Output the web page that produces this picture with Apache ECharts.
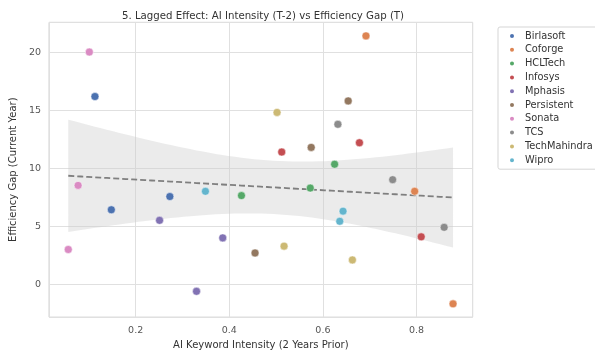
<!DOCTYPE html>
<html><head><meta charset="utf-8">
<script src="https://cdn.jsdelivr.net/npm/echarts@6/dist/echarts.min.js"></script>
<style>html,body{margin:0;padding:0;background:#fff}#c{width:595px;height:355px}</style>
</head><body><div id="c"></div>
<script>
const companies = ["Birlasoft","Coforge","HCLTech","Infosys","Mphasis","Persistent","Sonata","TCS","TechMahindra","Wipro"];
const colors = ["#4C72B0","#DD8452","#55A868","#C44E52","#8172B3","#937860","#DA8BC3","#8C8C8C","#CCB974","#64B5CD"];
const aiIntensity = {
  Birlasoft:[0.113,0.148,0.273],
  Coforge:[0.692,0.796,0.878],
  HCLTech:[0.625,0.573,0.426],
  Infosys:[0.512,0.678,0.810],
  Mphasis:[0.251,0.386,0.330],
  Persistent:[0.654,0.575,0.455],
  Sonata:[0.101,0.077,0.056],
  TCS:[0.632,0.749,0.859],
  TechMahindra:[0.502,0.517,0.663],
  Wipro:[0.349,0.643,0.636]
};
const efficiencyGap = {
  Birlasoft:[16.2,6.45,7.59],
  Coforge:[21.42,8.04,-1.65],
  HCLTech:[10.37,8.32,7.67],
  Infosys:[11.42,12.22,4.12],
  Mphasis:[5.54,4.03,-0.57],
  Persistent:[15.82,11.82,2.73],
  Sonata:[20.03,8.55,3.03],
  TCS:[13.81,9.04,4.94],
  TechMahindra:[14.83,3.32,2.13],
  Wipro:[8.04,6.33,5.46]
};
const xTicks = [0.2,0.4,0.6,0.8];
const yTicks = [0,5,10,15,20];

// regression with 95% CI (derived from the data; seaborn bootstraps, slightly wider)
const xs=[], ys=[];
companies.forEach(c=>{aiIntensity[c].forEach((x,i)=>{xs.push(x);ys.push(efficiencyGap[c][i]);});});
const n=xs.length, xbar=xs.reduce((a,b)=>a+b)/n, ybar=ys.reduce((a,b)=>a+b)/n;
let sxx=0,sxy=0; for(let i=0;i<n;i++){sxx+=(xs[i]-xbar)**2;sxy+=(xs[i]-xbar)*(ys[i]-ybar);}
const b1=sxy/sxx, b0=ybar-b1*xbar;
let sse=0; for(let i=0;i<n;i++){sse+=(ys[i]-b0-b1*xs[i])**2;}
const s=Math.sqrt(sse/(n-2)), tcrit=2.048*1.08;
const xmin=Math.min(...xs), xmax=Math.max(...xs);
const fitLine=[], upper=[], lower=[];
for(let k=0;k<=60;k++){
  const x=xmin+(xmax-xmin)*k/60, yh=b0+b1*x;
  const se=s*Math.sqrt(1/n+(x-xbar)**2/sxx);
  fitLine.push([x,yh]); upper.push([x,yh+tcrit*se]); lower.push([x,yh-tcrit*se]);
}
const bandPoly = upper.concat(lower.slice().reverse());

const isTick=(v,arr)=>arr.some(t=>Math.abs(t-v)<1e-6);
const font='DejaVu Sans';
const series=[{
  type:'custom', silent:true, z:1,
  renderItem:(params,api)=>{
    if(params.dataIndex!==0) return null;
    const pts=bandPoly.map(p=>api.coord(p));
    return {type:'polygon',shape:{points:pts},style:{fill:'rgba(205,205,205,0.4)'}};
  },
  data:[[0,0]], encode:{x:0,y:1}
},{
  type:'line', data:fitLine, showSymbol:false, silent:true, z:2,
  lineStyle:{color:'#7f7f7f',width:1.8,type:[6,3]}
}];
companies.forEach((c,ci)=>{
  series.push({
    name:c, type:'scatter', z:3, symbolSize:8,
    itemStyle:{color:colors[ci],borderColor:'#fff',borderWidth:0.5,opacity:1},
    data:aiIntensity[c].map((x,i)=>[x,efficiencyGap[c][i]])
  });
});

const chart=echarts.init(document.getElementById('c'),null,{renderer:'canvas'});
chart.setOption({
  animation:false,
  textStyle:{fontFamily:font},
  title:{text:'5. Lagged Effect: AI Intensity (T-2) vs Efficiency Gap (T)',left:258,textAlign:'center',top:6,
    textStyle:{fontFamily:font,fontSize:10.2,fontWeight:'normal',color:'#333'}},
  grid:{left:44.3,right:122.3,top:22.3,bottom:35,show:true,borderColor:'#d5d5d5',borderWidth:1,containLabel:false},
  xAxis:{type:'value',min:0.0148,max:0.92,splitNumber:5,
    name:'AI Keyword Intensity (2 Years Prior)',nameLocation:'middle',nameGap:22,
    nameTextStyle:{fontFamily:font,fontSize:10,color:'#333'},
    axisLine:{show:false},axisTick:{show:false},
    axisLabel:{fontFamily:font,fontSize:9.5,color:'#555',margin:8,showMinLabel:false,showMaxLabel:false,
      formatter:v=>isTick(v,xTicks)?v.toFixed(1):''},
    splitLine:{lineStyle:{color:'#e0e0e0',width:1}}},
  yAxis:{type:'value',min:-2.79,max:22.59,splitNumber:5,
    name:'Efficiency Gap (Current Year)',nameLocation:'middle',nameGap:27,
    nameTextStyle:{fontFamily:font,fontSize:10,color:'#333'},
    axisLine:{show:false},axisTick:{show:false},
    axisLabel:{fontFamily:font,fontSize:9.5,color:'#555',margin:8,showMinLabel:false,showMaxLabel:false,
      formatter:v=>isTick(v,yTicks)?String(Math.round(v)):''},
    splitLine:{lineStyle:{color:'#e0e0e0',width:1}}},
  legend:{orient:'vertical',left:498,top:27,data:companies,icon:'circle',itemWidth:6,itemHeight:6,itemGap:1.8,
    padding:[3,6,3,10],borderColor:'#d5d5d5',borderWidth:1,borderRadius:2,width:80,
    textStyle:{fontFamily:font,fontSize:9.8,color:'#333',lineHeight:12,padding:[0,0,0,5]}},
  series:series
});
</script></body></html>
